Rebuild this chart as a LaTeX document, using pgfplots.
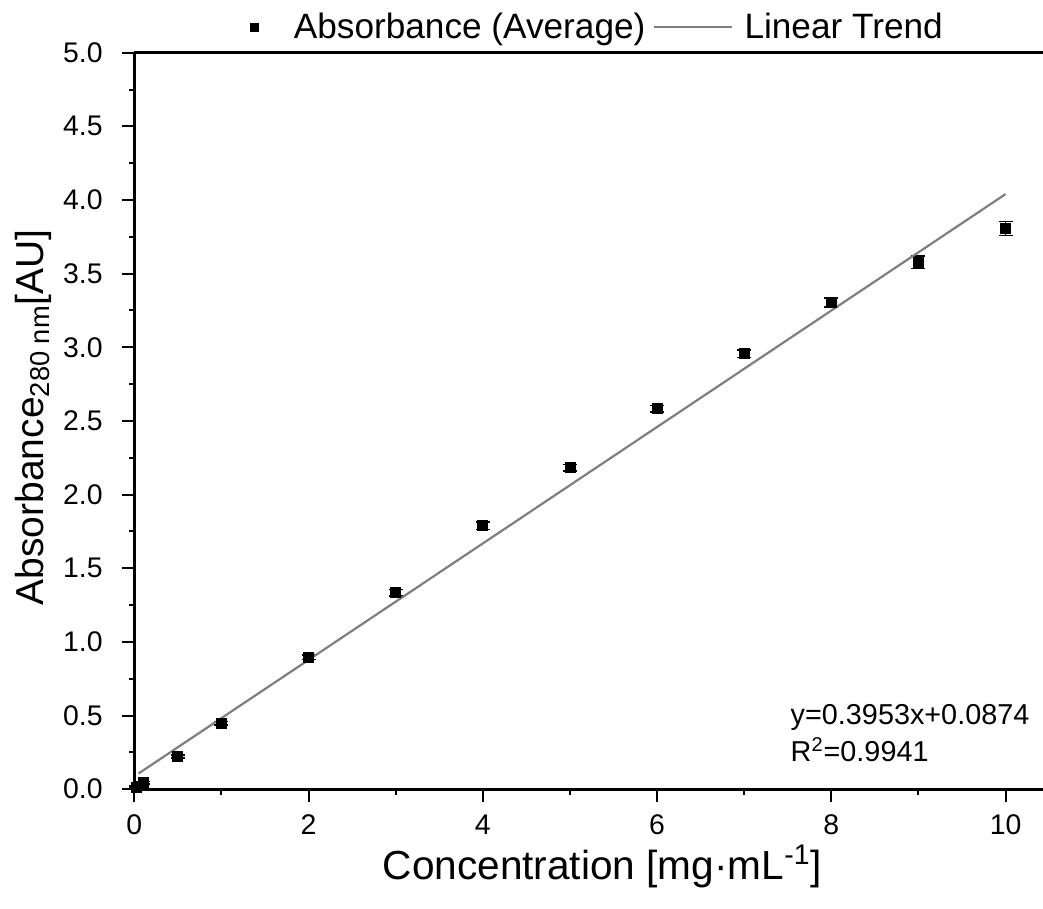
\documentclass[border=0pt]{standalone}
\usepackage{fontspec}
\setmainfont{Liberation Sans}
\usepackage{pgfplots}
\pgfplotsset{compat=1.18}
\usetikzlibrary{calc}

\definecolor{trendgray}{HTML}{7F7F7F}
\pgfplotsset{
  trendlegend/.style={legend image code/.code={\path[draw=none] (0pt,0pt) -- (42pt,0pt); \draw[#1] (0pt,0pt) -- (39pt,0pt);}},
  marklegend/.style={legend image code/.code={\path[draw=none] (-4pt,0pt) -- (16pt,0pt); \draw[#1, mark size=2pt] plot coordinates {(0pt,0pt)};}},
}

\begin{document}
\begin{tikzpicture}
\begin{axis}[
  width=454.4pt, height=368.3pt, scale only axis,
  xmin=0, xmax=10.43, ymin=0, ymax=5,
  clip=false,
  axis lines*=left,
  axis line style={line width=1.3pt},
  tick align=outside,
  major tick length=6.3pt, minor tick length=2.8pt,
  every tick/.style={black, line width=1pt},
  xtick={0,2,4,6,8,10}, minor xtick={1,3,5,7,9},
  ytick={0,0.5,1,1.5,2,2.5,3,3.5,4,4.5,5},
  minor ytick={0.25,0.75,1.25,1.75,2.25,2.75,3.25,3.75,4.25,4.75},
  tick label style={font=\fontsize{14.2}{17}\selectfont, /pgf/number format/assume math mode=true},
  yticklabel style={/pgf/number format/.cd, fixed, fixed zerofill, precision=1, /tikz/xshift=-6pt},
  xticklabel style={yshift=-3pt},
  xlabel={Concentration [mg·mL\textsuperscript{-1}]},
  ylabel={Absorbance\textsubscript{280 nm}[AU]},
  xlabel style={font=\fontsize{20.3}{24}\selectfont, at={(axis description cs:0.515,-0.1045)}, anchor=center},
  ylabel style={font=\fontsize{19.5}{23}\selectfont, at={(axis description cs:-0.111,0.505)}, anchor=center},
  legend columns=2,
  legend style={at={(axis description cs:0.509,1.035)}, anchor=center, draw=none, fill=none,
    font=\fontsize{17.6}{21}\selectfont, column sep=1.5pt},
]
\addplot[black, only marks, mark=square*, mark size=2.5pt, marklegend,
  error bars/.cd, y dir=both, y explicit,
  error bar style={line width=0.8pt, black},
  error mark options={rotate=90, mark size=3.5pt, line width=0.8pt, black}]
  table[x=x, y=y, y error=e] {
x     y      e
0.025 0.015  0.005
0.1   0.045  0.008
0.5   0.221  0.010
1     0.448  0.012
2     0.896  0.015
3     1.333  0.022
4     1.788  0.025
5     2.183  0.022
6     2.584  0.022
7     2.957  0.025
8     3.305  0.030
9     3.578  0.043
10    3.806  0.047
};
\addlegendentry{Absorbance (Average)}
\addplot[trendgray, line width=1.1pt, no marks, trendlegend]
  coordinates {(0.05,0.107) (10,4.040)};
\addlegendentry{Linear Trend}
\draw[line width=1.3pt] (rel axis cs:0,1) -- (rel axis cs:1,1);
\node[anchor=west, font=\fontsize{14.4}{17}\selectfont, inner sep=0pt] at (axis cs:7.53,0.484) {y=0.3953x+0.0874};
\node[anchor=west, font=\fontsize{14.4}{17}\selectfont, inner sep=0pt] at (axis cs:7.53,0.27) {R\textsuperscript{2}=0.9941};
\end{axis}
\pgfresetboundingbox
\path[use as bounding box] ($(current axis.south west)+(-67.15pt,-59.85pt)$) rectangle ($(current axis.north east)+(0pt,26.35pt)$);
\end{tikzpicture}
\end{document}
